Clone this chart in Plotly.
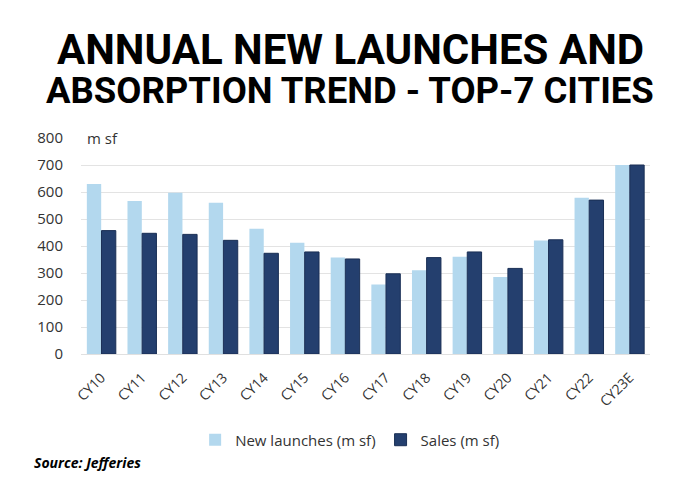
import plotly.graph_objects as go

categories = ["CY10", "CY11", "CY12", "CY13", "CY14", "CY15", "CY16",
              "CY17", "CY18", "CY19", "CY20", "CY21", "CY22", "CY23E"]
new_launches = [630, 567, 597, 560, 464, 412, 357, 257, 310, 360, 285, 420, 579, 700]
sales = [457, 447, 443, 421, 373, 378, 352, 297, 357, 378, 317, 423, 570, 700]
y_ticks = [0, 100, 200, 300, 400, 500, 600, 700, 800]

fig = go.Figure()
fig.add_trace(go.Bar(x=categories, y=new_launches, name="New launches (m sf)",
                     marker=dict(color="#b3d8ee", line=dict(width=0))))
fig.add_trace(go.Bar(x=categories, y=sales, name="Sales (m sf)",
                     marker=dict(color="#243f6e", line=dict(color="#1a2f55", width=1))))

fig.update_layout(
    width=700, height=500,
    margin=dict(l=81, r=50, t=138, b=146, autoexpand=False),
    paper_bgcolor="white", plot_bgcolor="white",
    barmode="group", bargap=0.28, bargroupgap=0.02,
    font=dict(family="Open Sans", color="#333333", size=15),
    showlegend=True,
    legend=dict(orientation="h", x=0.473, xanchor="center", y=-0.398, yanchor="middle",
                font=dict(size=15, color="#333333"), itemwidth=30, traceorder="normal"),
    xaxis=dict(tickangle=-45, tickfont=dict(size=14, color="#333333"), showgrid=False,
               showline=True, linecolor="#e0e0e0", ticks="", automargin=False,
               ticklabelstandoff=9),
    yaxis=dict(range=[0, 800], tickvals=y_ticks, showgrid=True, gridcolor="#e3e3e3",
               zeroline=False, tickfont=dict(size=15, color="#333333"), ticks="",
               ticklabelstandoff=17, automargin=False),
    annotations=[
        dict(text="<b>ANNUAL NEW LAUNCHES AND</b>", xref="paper", yref="paper",
             x=0.473, y=1.412, xanchor="center", yanchor="middle", showarrow=False,
             font=dict(family="Roboto", size=42, color="#000000", weight=900)),
        dict(text="<b>ABSORPTION TREND - TOP-7 CITIES</b>", xref="paper", yref="paper",
             x=0.473, y=1.222, xanchor="center", yanchor="middle", showarrow=False,
             font=dict(family="Roboto", size=36.5, color="#000000", weight=900)),
        dict(text="m sf", xref="paper", yref="paper", x=0.007, y=1.0, xanchor="left",
             yanchor="middle", showarrow=False, font=dict(size=15, color="#333333"),
             bgcolor="white"),
        dict(text="<b><i>Source: Jefferies</i></b>", xref="paper", yref="paper",
             x=-0.086, y=-0.5, xanchor="left", yanchor="middle", showarrow=False,
             font=dict(size=14, color="#000000")),
    ],
)

fig.write_html("out.html", config={"displayModeBar": False},
               post_script="document.body.style.margin='0px';")
